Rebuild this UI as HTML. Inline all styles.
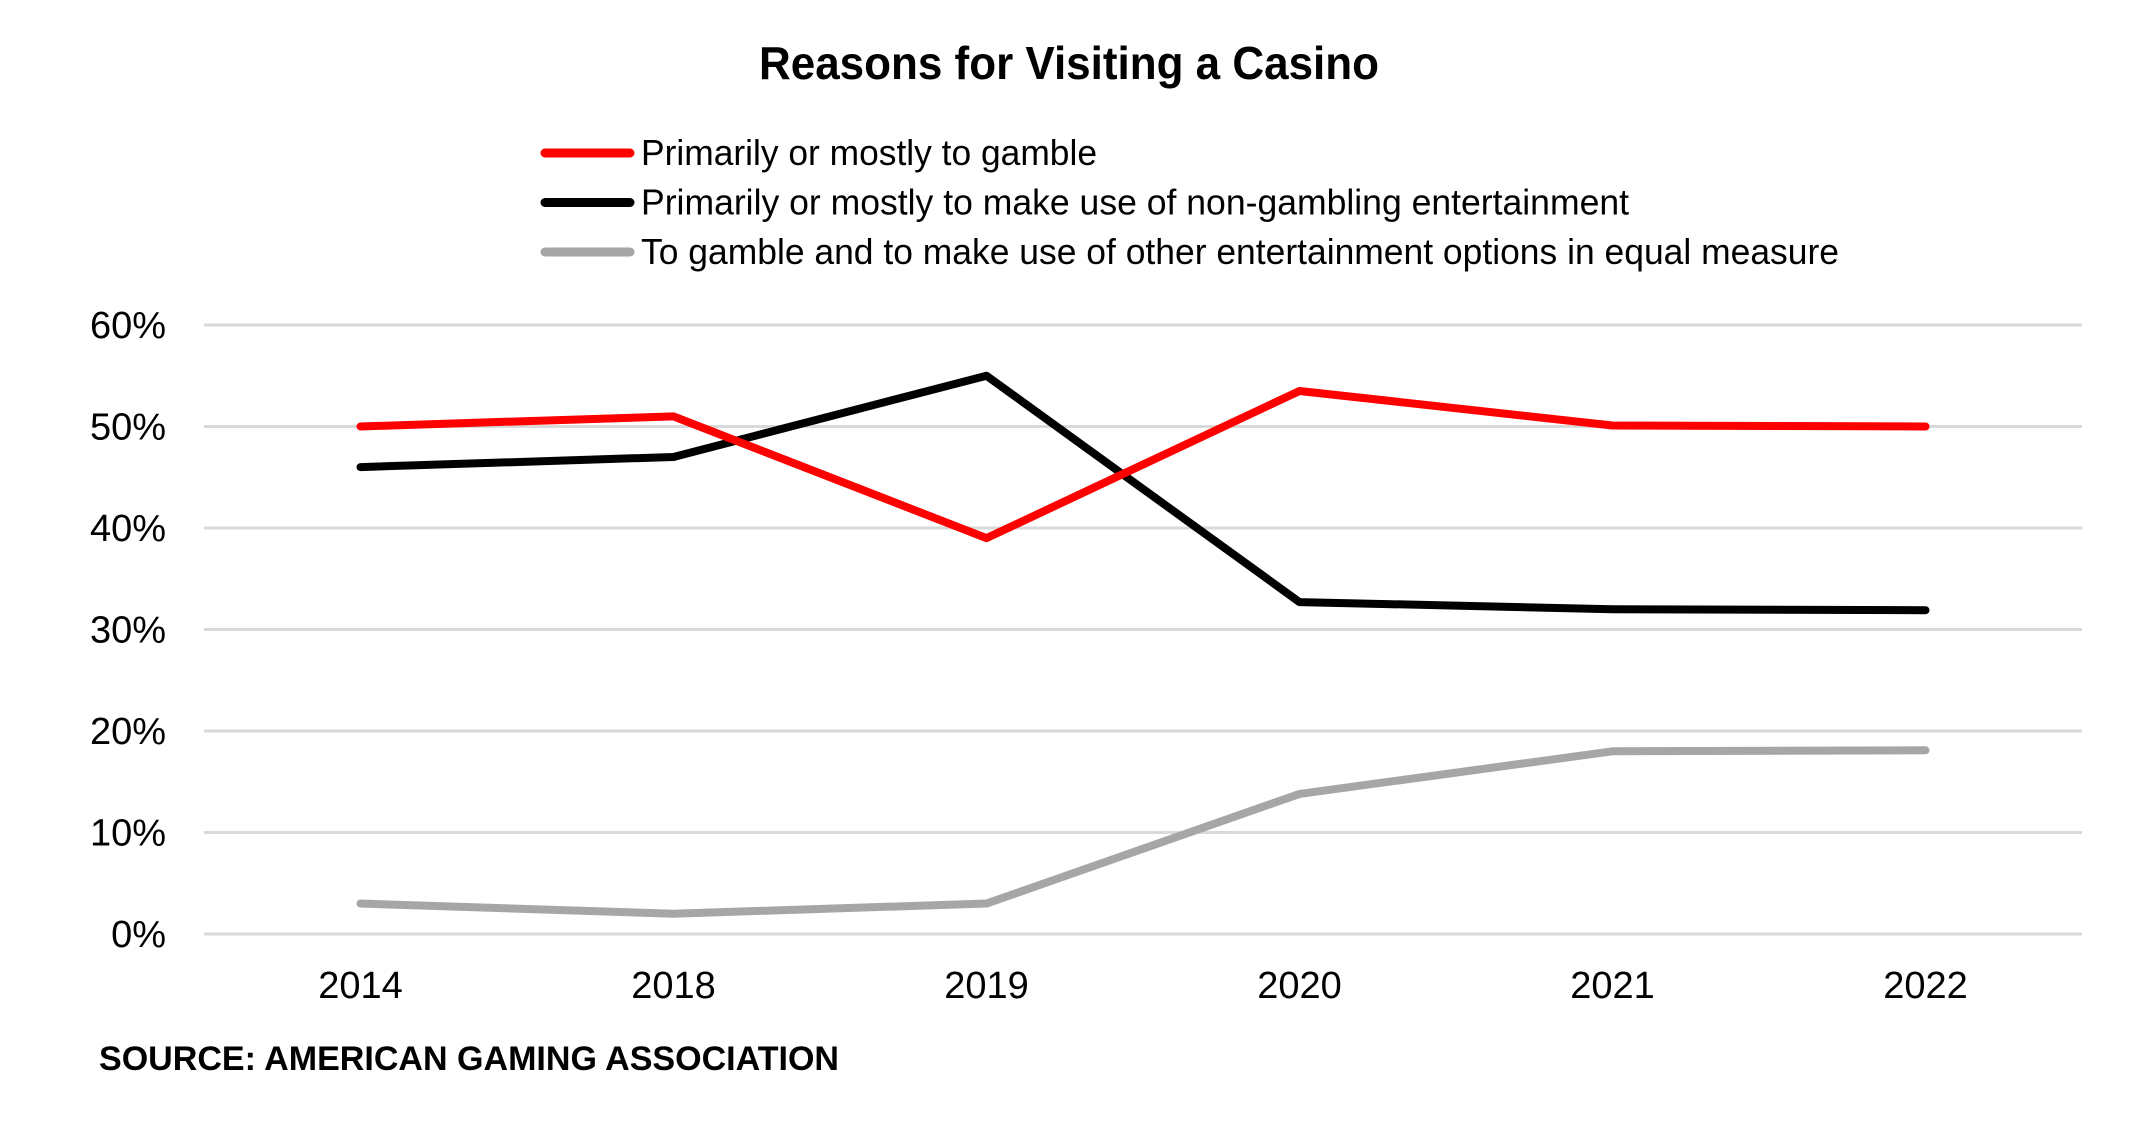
<!DOCTYPE html>
<html><head><meta charset="utf-8"><style>
html,body{margin:0;padding:0;background:#fff;}
svg{display:block;font-family:"Liberation Sans Narrow","Liberation Sans",sans-serif;}
</style></head><body>
<svg id="chart" width="2145" height="1127" viewBox="0 0 2145 1127" xmlns="http://www.w3.org/2000/svg">
<text x="1069" y="79" text-anchor="middle" font-size="46" font-weight="bold" textLength="620" lengthAdjust="spacingAndGlyphs">Reasons for Visiting a Casino</text>
<g id="legend"></g>
<g id="grid"></g>
<g id="yaxis"></g>
<g id="xaxis"></g>
<g id="series"></g>
<text x="99" y="1070" font-size="34" font-weight="bold" font-family="Liberation Sans, sans-serif" textLength="740" lengthAdjust="spacingAndGlyphs">SOURCE: AMERICAN GAMING ASSOCIATION</text>
</svg>
<script>
const categories = ["2014","2018","2019","2020","2021","2022"];
const gambleValues = [50, 51, 39, 53.5, 50.1, 50];
const nonGamblingValues = [46, 47, 55, 32.7, 32, 31.9];
const equalValues = [3, 2, 3, 13.8, 18, 18.1];
const yTicks = [0, 10, 20, 30, 40, 50, 60];
const yTickLabels = ["0%","10%","20%","30%","40%","50%","60%"];
const seriesNames = ["Primarily or mostly to gamble","Primarily or mostly to make use of non-gambling entertainment","To gamble and to make use of other entertainment options in equal measure"];

const NS="http://www.w3.org/2000/svg";
const plotL=204, plotR=2082, y0=934, y60=325;
const band=(plotR-plotL)/categories.length;
const xs=i=>plotL+band*(i+0.5);
const ys=v=>y0-(v/60)*(y0-y60);
function mk(tag,attrs,parent){const e=document.createElementNS(NS,tag);for(const k in attrs)e.setAttribute(k,attrs[k]);parent.appendChild(e);return e;}

const grid=document.getElementById('grid'), yaxis=document.getElementById('yaxis'), xaxis=document.getElementById('xaxis'), series=document.getElementById('series'), legend=document.getElementById('legend');
yTicks.forEach((t,i)=>{
  const l=mk('line',{x1:plotL,x2:plotR,y1:ys(t),y2:ys(t),stroke:'#d9d9d9','stroke-width':3},grid);
  
  
  const tx=mk('text',{x:166,y:ys(t)+13,'text-anchor':'end','font-size':38,'font-family':'Liberation Sans, sans-serif'},yaxis);
  tx.textContent=yTickLabels[i];
  
  
});
categories.forEach((c,i)=>{
  const tx=mk('text',{x:xs(i),y:998,'text-anchor':'middle','font-size':38,'font-family':'Liberation Sans, sans-serif'},xaxis);
  tx.textContent=c;
  
  
});
const all=[[gambleValues,'#ff0000','gamble'],[nonGamblingValues,'#000000','non-gambling'],[equalValues,'#a6a6a6','equal-measure']];
[2,1,0].forEach(k=>{
  const [vals,col,nm]=all[k];
  const p=mk('polyline',{points:vals.map((v,i)=>xs(i)+','+ys(v)).join(' '),fill:'none',stroke:col,'stroke-width':8,'stroke-linejoin':'round','stroke-linecap':'round'},series);
  
  
});
const legW=[456,988,1198];
all.forEach(([vals,col,nm],k)=>{
  const y=153+k*49.5;
  const l=mk('line',{x1:545,x2:630,y1:y,y2:y,stroke:col,'stroke-width':9,'stroke-linecap':'round'},legend);
  
  
  const t=mk('text',{x:641,y:y+12,'font-size':36,textLength:legW[k],lengthAdjust:'spacingAndGlyphs'},legend);
  t.textContent=seriesNames[k];
  
  
});
</script>
</body></html>
